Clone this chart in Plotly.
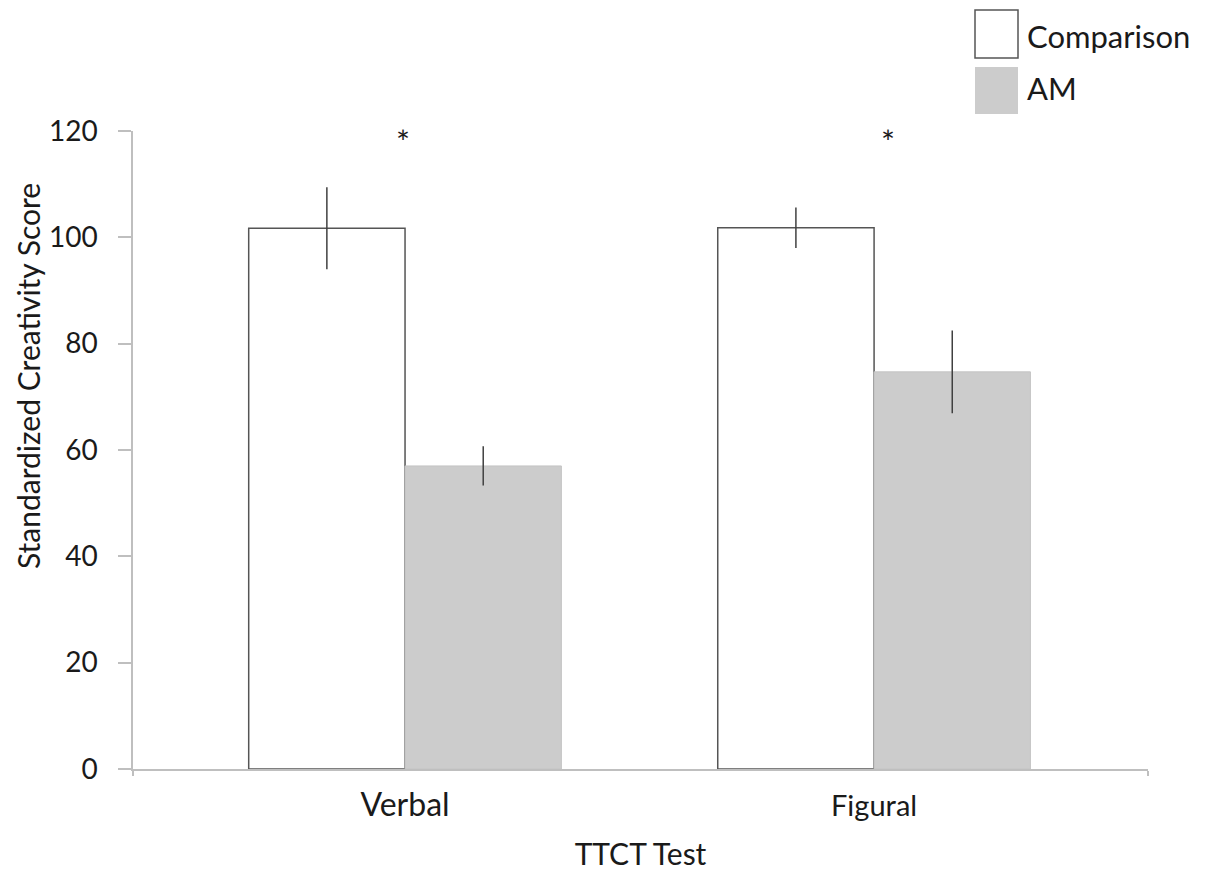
import plotly.graph_objects as go

categories = ["Verbal", "Figural"]
comparison = [101.7, 101.8]
comparison_err = [7.7, 3.8]
am = [57.0, 74.7]
am_err = [3.7, 7.8]
series_names = ["Comparison", "AM"]
y_ticks = [0, 20, 40, 60, 80, 100, 120]
sig_marks = ["*", "*"]
y_title = "Standardized Creativity Score"
x_title = "TTCT Test"

FONT = "Lato"
TXT = "#1a1a1a"
x_pos = list(range(len(categories)))
cat_sizes = [32, 29]
tick_text = [f'<span style="font-size:{s}px">{c}</span>' for c, s in zip(categories, cat_sizes)]

# page body has an 8px margin; compensate
OFF = 8
W, H = 1212 - OFF, 873 - OFF
L, R, T, B = 133 - OFF, 1148 - OFF, 131 - OFF, 769 - OFF

fig = go.Figure()
fig.add_trace(go.Bar(
    x=x_pos, y=comparison, name=series_names[0],
    marker=dict(color="white", line=dict(color="#555555", width=1.5)),
    error_y=dict(type="data", array=comparison_err, color="#404040", thickness=1.5, width=0),
))
fig.add_trace(go.Bar(
    x=x_pos, y=am, name=series_names[1],
    marker=dict(color="#cccccc", line=dict(color="#c4c4c4", width=1)),
    error_y=dict(type="data", array=am_err, color="#404040", thickness=1.5, width=0),
))

ann = []
for xi, mk in zip([-0.005, 1.03], sig_marks):
    ann.append(dict(x=xi, y=118.2, xref="x", yref="y", text=mk, showarrow=False,
                    font=dict(family=FONT, size=33, color=TXT)))

def px2paper_x(px):
    return (px - OFF - L) / (R - L)

def px2paper_y(py):
    return (B - (py - OFF)) / (B - T)

shapes = [
    dict(type="rect", xref="paper", yref="paper",
         x0=px2paper_x(975), x1=px2paper_x(1018), y0=px2paper_y(58), y1=px2paper_y(10),
         fillcolor="white", line=dict(color="#555555", width=1.5)),
    dict(type="rect", xref="paper", yref="paper",
         x0=px2paper_x(975), x1=px2paper_x(1018), y0=px2paper_y(114), y1=px2paper_y(67),
         fillcolor="#cccccc", line=dict(color="#cccccc", width=0)),
]
ann.append(dict(x=px2paper_x(1025), y=px2paper_y(36), xref="paper", yref="paper",
                text=series_names[0], showarrow=False, xanchor="left", yanchor="middle",
                font=dict(family=FONT, size=31, color=TXT)))
ann.append(dict(x=px2paper_x(1025), y=px2paper_y(88), xref="paper", yref="paper",
                text=series_names[1], showarrow=False, xanchor="left", yanchor="middle",
                font=dict(family=FONT, size=31, color=TXT)))
ann.append(dict(x=px2paper_x(28), y=px2paper_y(376), xref="paper", yref="paper",
                text=y_title, showarrow=False, textangle=-90,
                xanchor="center", yanchor="middle",
                font=dict(family=FONT, size=30, color=TXT)))

fig.update_layout(
    width=W, height=H,
    margin=dict(l=L, r=W - R, t=T, b=H - B, autoexpand=False),
    paper_bgcolor="white", plot_bgcolor="white",
    barmode="group", bargap=1/3, bargroupgap=0,
    showlegend=False,
    annotations=ann, shapes=shapes,
    font=dict(family=FONT, color=TXT),
)
fig.update_xaxes(
    range=[-0.58, 1.584], automargin=False,
    tickmode="array", tickvals=x_pos, ticktext=tick_text,
    tickfont=dict(family=FONT, size=30, color=TXT),
    ticks="", showline=True, linecolor="#bfbfbf", linewidth=1.5,
    ticklabelstandoff=9,
    minor=dict(tickmode="array", tickvals=[-0.58, 1.584], ticks="outside", ticklen=5,
               tickcolor="#bfbfbf", tickwidth=1.5),
    showgrid=False, zeroline=False,
    title=dict(text=x_title, font=dict(family=FONT, size=30, color=TXT), standoff=22),
)
fig.update_yaxes(
    range=[0, 120], tickmode="array", tickvals=y_ticks, automargin=False,
    tickfont=dict(family=FONT, size=28, color=TXT),
    ticks="outside", ticklen=13, tickcolor="#bfbfbf", tickwidth=1.5,
    ticklabelstandoff=15,
    showline=True, linecolor="#bfbfbf", linewidth=1.5,
    showgrid=False, zeroline=False,
)

fig.write_html("out.html")
